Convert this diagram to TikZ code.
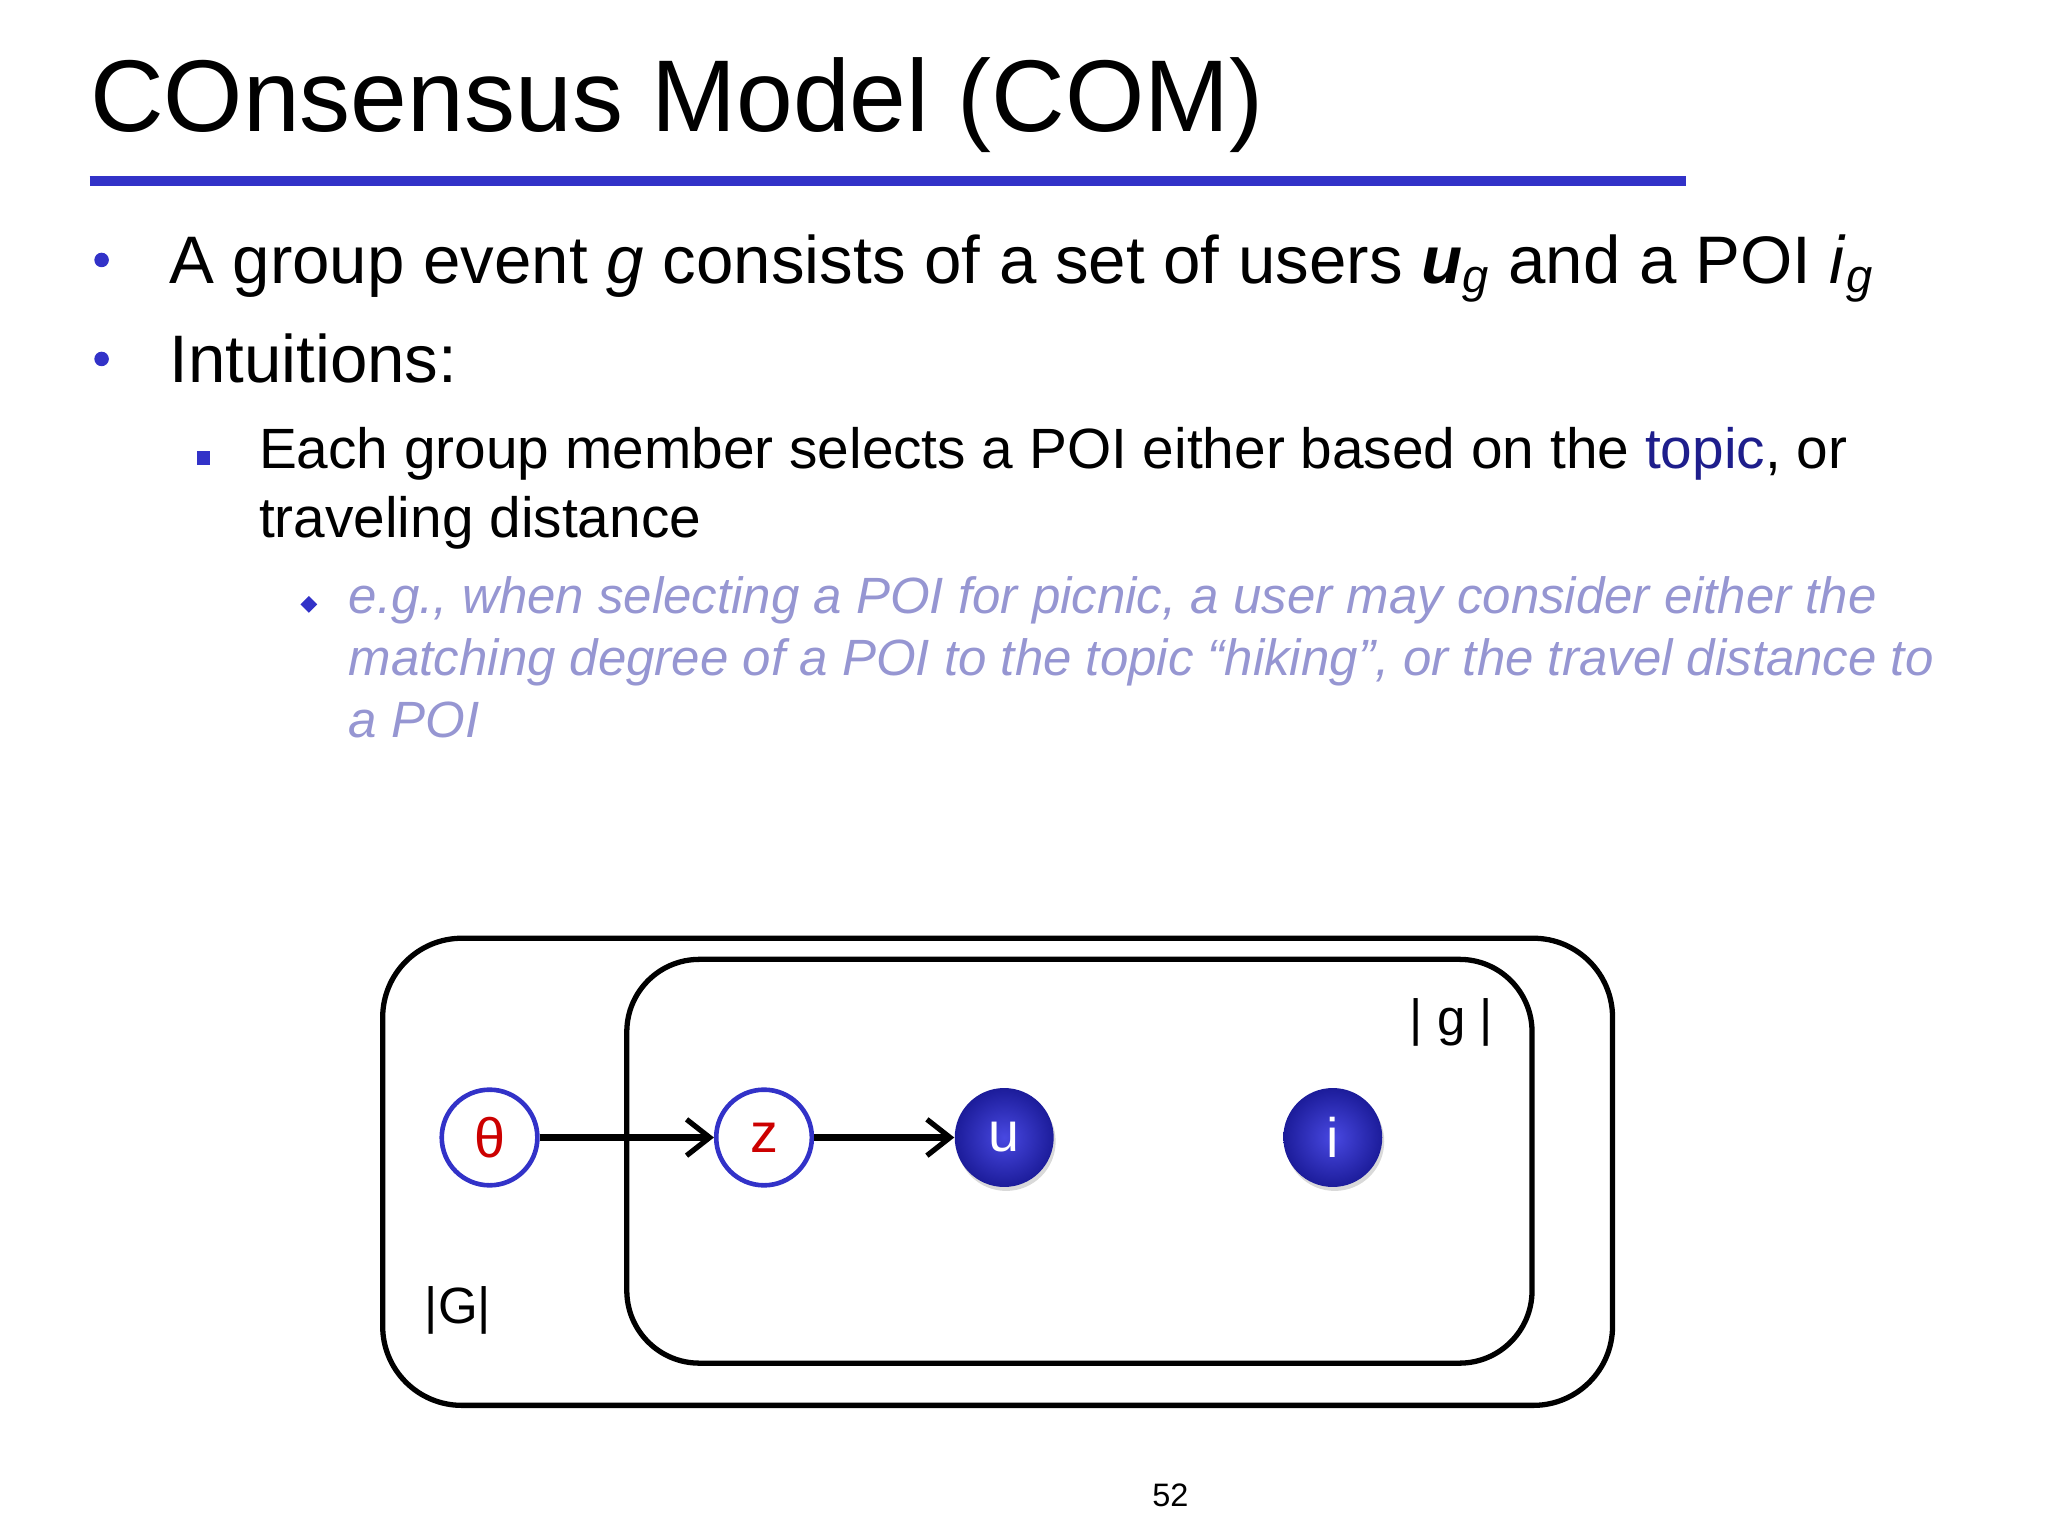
\documentclass[tikz,border=0pt]{standalone}
\usepackage{fontspec}
\setmainfont{Liberation Sans}
\usetikzlibrary{arrows.meta,shadows,shapes.geometric}
\definecolor{ttlblue}{RGB}{50,50,200}
\definecolor{egcol}{RGB}{150,150,210}
\definecolor{nodeblue}{RGB}{40,40,220}
\definecolor{topicc}{RGB}{30,30,140}
\tikzset{
 x=0.02cm,y=-0.02cm,
 txt/.style={anchor=base west,inner sep=0pt},
 open/.style={circle,draw=ttlblue,line width=0.07cm,fill=white,minimum size=1.45cm,inner sep=0pt,text=red!80!black,font=\fontsize{24}{28}\selectfont},
 filled/.style={circle,inner color=nodeblue!85!white,outer color=nodeblue!70!black,draw=none,minimum size=1.5cm,inner sep=0pt,text=white,font=\fontsize{24}{28}\selectfont,drop shadow={shadow xshift=0.03cm,shadow yshift=-0.06cm,opacity=0.3}},
 plate/.style={draw,line width=0.08cm,rounded corners=1.2cm},
 edge/.style={-{Straight Barb[length=0.35cm,width=0.55cm,line width=0.08cm]},line width=0.1cm}
}
\begin{document}
\begin{tikzpicture}
\useasboundingbox (0,0) rectangle (1552,1164);
\node[txt,font=\fontsize{44}{50}\selectfont] (title) at (68,100) {COnsensus Model (COM)};
\draw[ttlblue,line width=0.16cm] (68,137) -- (1278,137);
\node[circle,fill=ttlblue,inner sep=0pt,minimum size=0.22cm] (b1) at (77,197) {};
\node[txt,font=\fontsize{29}{33}\selectfont] (t1) at (128,215) {A group event \textit{g} consists of a set of users \textbf{\textit{u}}\textsubscript{\textit{g}} and a POI \textit{i}\textsubscript{\textit{g}}};
\node[circle,fill=ttlblue,inner sep=0pt,minimum size=0.22cm] (b2) at (77,272) {};
\node[txt,font=\fontsize{29}{33}\selectfont] (t2) at (128,290) {Intuitions:};
\node[fill=ttlblue,inner sep=0pt,minimum size=0.2cm] (b3) at (154,347) {};
\node[txt,font=\fontsize{24.5}{28}\selectfont] (t3) at (196,355) {Each group member selects a POI either based on the \textcolor{topicc}{topic}, or};
\node[txt,font=\fontsize{24.5}{28}\selectfont] (t4) at (196,407) {traveling distance};
\node[diamond,fill=ttlblue,inner sep=0pt,minimum size=0.26cm,shape aspect=1] (b4) at (234,458) {};
\node[txt,font=\fontsize{22}{26}\selectfont\itshape,text=egcol] (e1) at (264,465) {e.g., when selecting a POI for picnic, a user may consider either the};
\node[txt,font=\fontsize{22}{26}\selectfont\itshape,text=egcol] (e2) at (264,512) {matching degree of a POI to the topic “hiking”, or the travel distance to};
\node[txt,font=\fontsize{22}{26}\selectfont\itshape,text=egcol] (e3) at (264,559) {a POI};
\draw[plate] (290,711) rectangle (1222,1065);
\draw[plate,rounded corners=1.1cm] (475,727) rectangle (1161,1033);
\node[font=\fontsize{22}{26}\selectfont] (gl) at (1100,775) {| g |};
\node[font=\fontsize{22}{26}\selectfont] (Gl) at (347,993) {|G|};
\node[open] (th) at (371,862) {θ};
\node[open] (z) at (579,862) {z};
\node[filled] (u) at (761,862) {u};
\node[filled] (i) at (1010,862) {i};
\draw[edge] (th) -- (z);
\draw[edge] (z) -- (u);
\node[font=\fontsize{14}{16}\selectfont] (pn) at (887,1133) {52};
\end{tikzpicture}
\end{document}
